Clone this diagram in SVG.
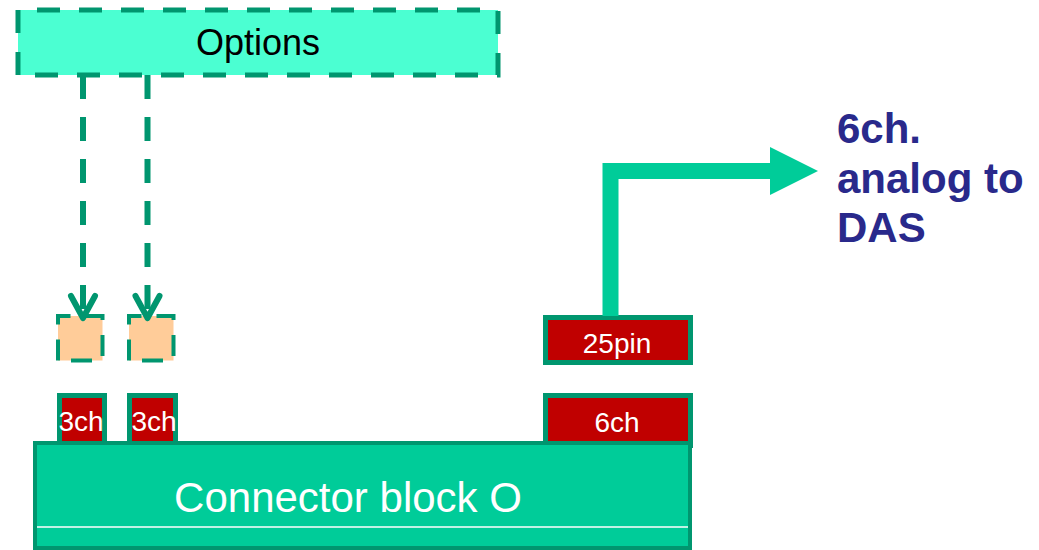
<svg xmlns="http://www.w3.org/2000/svg" width="1039" height="550" viewBox="0 0 1039 550">
  <style>
    .dk { stroke: #00966f; }
    .port { fill: #c00000; stroke: #00966f; stroke-width: 5; }
    .ptxt { font-family: "Liberation Sans", Arial, sans-serif; font-size: 28px; fill: #ffffff; text-anchor: middle; }
    .opt { fill: #ffcc99; stroke: #00966f; stroke-width: 4; stroke-dasharray: 21 15; }
    .dash { fill: none; stroke: #00966f; stroke-width: 6; stroke-dasharray: 24 18; }
    .blue { font-family: "Liberation Sans", Arial, sans-serif; font-size: 42px; font-weight: bold; fill: #29298b; }
  </style>
  <defs>
    <marker id="openArrow" markerUnits="userSpaceOnUse" orient="auto" refX="0" refY="0" markerWidth="40" markerHeight="40" overflow="visible">
      <path d="M-22,-12 L0,0 L-22,12" fill="none" stroke="#00966f" stroke-width="6" stroke-linecap="round" stroke-linejoin="round"/>
    </marker>
  </defs>
  <rect width="1039" height="550" fill="#ffffff"/>

  <g id="options">
    <path d="M18,75 V10 H498 V75 Z" fill="#4bffd2" stroke="#00966f" stroke-width="5" stroke-dasharray="23 19"/>
    <text x="258" y="55" font-family="Liberation Sans, Arial, sans-serif" font-size="36" fill="#000000" text-anchor="middle">Options</text>
  </g>

  <g id="option-slot-1">
    <path class="opt" d="M58,360.5 V316 H102.5 V360.5 Z"/>
  </g>
  <g id="option-slot-2">
    <path class="opt" d="M129,360.5 V316 H173.5 V360.5 Z"/>
  </g>

  <g id="port-3ch-1">
    <rect class="port" x="59.5" y="395.5" width="45" height="50"/>
    <text class="ptxt" x="81" y="431">3ch</text>
  </g>
  <g id="port-3ch-2">
    <rect class="port" x="129.5" y="395.5" width="46" height="50"/>
    <text class="ptxt" x="154" y="431">3ch</text>
  </g>
  <g id="port-6ch">
    <rect class="port" x="545.5" y="395.5" width="145" height="50"/>
    <text class="ptxt" x="617" y="432">6ch</text>
  </g>
  <g id="port-25pin">
    <rect class="port" x="545.5" y="317.5" width="145" height="45"/>
    <text class="ptxt" x="617" y="353">25pin</text>
  </g>

  <g id="connector-block">
    <rect x="35" y="443" width="655" height="105" fill="#00cc99" stroke="#00966f" stroke-width="4"/>
    <line x1="37" y1="527" x2="688" y2="527" stroke="#ffffff" stroke-width="1.5"/>
    <text x="348" y="512" font-family="Liberation Sans, Arial, sans-serif" font-size="42" fill="#ffffff" text-anchor="middle">Connector block O</text>
  </g>

  <g id="das-label">
    <text class="blue" x="837" y="143">6ch.</text>
    <text class="blue" x="837" y="193">analog to</text>
    <text class="blue" x="837" y="242">DAS</text>
  </g>

  <g id="connectors">
    <path class="dash" d="M83,75 V318" marker-end="url(#openArrow)"/>
    <path class="dash" d="M147.5,75 V318" marker-end="url(#openArrow)"/>
    <polyline points="610.5,316 610.5,171 772,171" fill="none" stroke="#00cc99" stroke-width="16" stroke-linejoin="miter"/>
    <polygon points="770,147 818,171 770,195" fill="#00cc99"/>
  </g>
</svg>
